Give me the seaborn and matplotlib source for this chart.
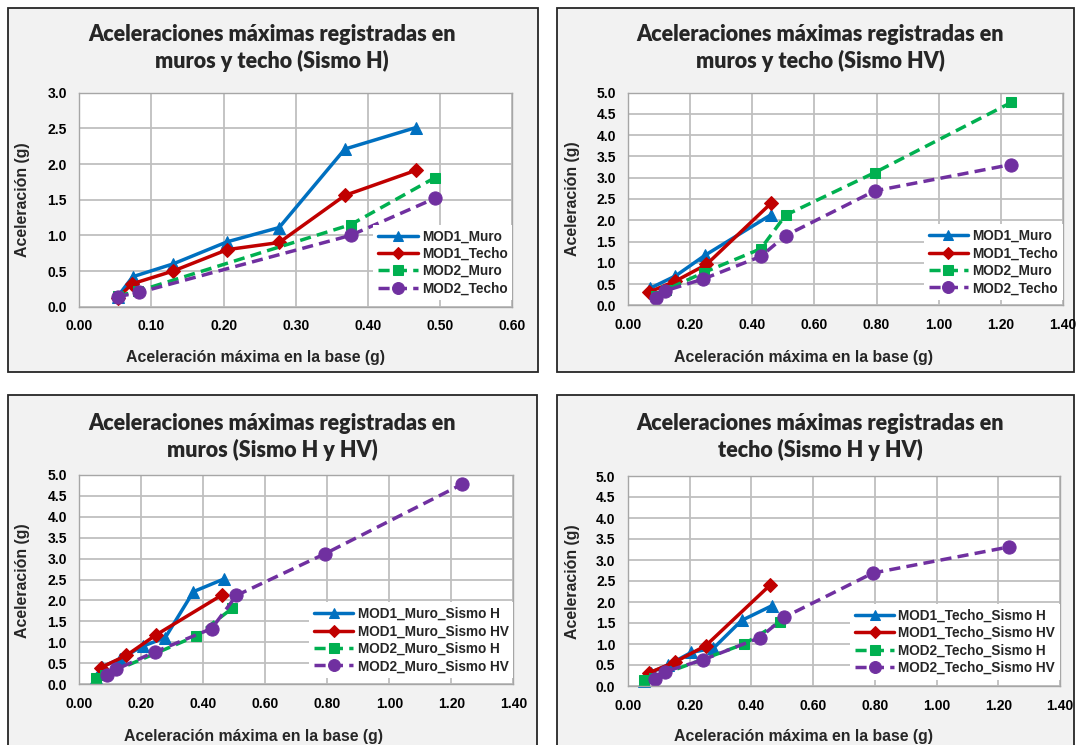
import numpy as np
import pandas as pd
import matplotlib
matplotlib.use("Agg")
import matplotlib.pyplot as plt
import matplotlib.patches as patches
from matplotlib.ticker import FormatStrFormatter
import seaborn as sns

# ==========================================
# DATA
# ==========================================

# Sismo H
mod1_muro_h_x = [0.053, 0.074, 0.130, 0.205, 0.277, 0.368, 0.466]
mod1_muro_h_y = [0.14, 0.42, 0.60, 0.91, 1.11, 2.21, 2.51]
mod1_techo_h_x = [0.053, 0.073, 0.130, 0.205, 0.277, 0.368, 0.466]
mod1_techo_h_y = [0.12, 0.32, 0.50, 0.80, 0.90, 1.56, 1.91]
mod2_muro_h_x = [0.053, 0.082, 0.376, 0.493]
mod2_muro_h_y = [0.15, 0.22, 1.15, 1.81]
mod2_techo_h_x = [0.053, 0.083, 0.376, 0.493]
mod2_techo_h_y = [0.14, 0.20, 1.00, 1.52]

# Sismo HV
mod1_muro_hv_x = [0.070, 0.152, 0.248, 0.460]
mod1_muro_hv_y = [0.40, 0.69, 1.18, 2.13]
mod1_techo_hv_x = [0.067, 0.152, 0.252, 0.460]
mod1_techo_hv_y = [0.31, 0.57, 0.96, 2.40]
mod2_muro_hv_x = [0.088, 0.120, 0.243, 0.427, 0.507, 0.794, 1.234]
mod2_muro_hv_y = [0.22, 0.36, 0.77, 1.33, 2.12, 3.12, 4.77]
mod2_techo_hv_x = [0.089, 0.119, 0.242, 0.427, 0.507, 0.794, 1.234]
mod2_techo_hv_y = [0.17, 0.34, 0.62, 1.15, 1.64, 2.69, 3.31]

titles = [
    "Aceleraciones máximas registradas en\nmuros y techo (Sismo H)",
    "Aceleraciones máximas registradas en\nmuros y techo (Sismo HV)",
    "Aceleraciones máximas registradas en\nmuros (Sismo H y HV)",
    "Aceleraciones máximas registradas en\ntecho (Sismo H y HV)",
]
labels = [
    ["MOD1_Muro", "MOD1_Techo", "MOD2_Muro", "MOD2_Techo"],
    ["MOD1_Muro", "MOD1_Techo", "MOD2_Muro", "MOD2_Techo"],
    ["MOD1_Muro_Sismo H", "MOD1_Muro_Sismo HV", "MOD2_Muro_Sismo H", "MOD2_Muro_Sismo HV"],
    ["MOD1_Techo_Sismo H", "MOD1_Techo_Sismo HV", "MOD2_Techo_Sismo H", "MOD2_Techo_Sismo HV"],
]
series = [
    [(mod1_muro_h_x, mod1_muro_h_y), (mod1_techo_h_x, mod1_techo_h_y),
     (mod2_muro_h_x, mod2_muro_h_y), (mod2_techo_h_x, mod2_techo_h_y)],
    [(mod1_muro_hv_x, mod1_muro_hv_y), (mod1_techo_hv_x, mod1_techo_hv_y),
     (mod2_muro_hv_x, mod2_muro_hv_y), (mod2_techo_hv_x, mod2_techo_hv_y)],
    [(mod1_muro_h_x, mod1_muro_h_y), (mod1_muro_hv_x, mod1_muro_hv_y),
     (mod2_muro_h_x, mod2_muro_h_y), (mod2_muro_hv_x, mod2_muro_hv_y)],
    [(mod1_techo_h_x, mod1_techo_h_y), (mod1_techo_hv_x, mod1_techo_hv_y),
     (mod2_techo_h_x, mod2_techo_h_y), (mod2_techo_hv_x, mod2_techo_hv_y)],
]
x_max = [0.6, 1.4, 1.4, 1.4]
x_step = [0.1, 0.2, 0.2, 0.2]
y_max = [3.0, 5.0, 5.0, 5.0]

# ==========================================
# STYLE
# ==========================================

sns.set_theme(style="white")
plt.rcParams["font.family"] = ["Liberation Sans", "DejaVu Sans"]

colors = ["#0070C0", "#C00000", "#00B050", "#7030A0"]
markers = ["^", "D", "s", "o"]
msizes = [8.5, 7, 7.5, 9.5]
dash = (0, (3.2, 1.8))
lstyles = ["-", "-", dash, dash]

W, H = 1076, 745
fig = plt.figure(figsize=(W / 100, H / 100), dpi=100)
fig.patch.set_facecolor("white")

def fx(px):
    return px / W

def fy(py):
    return 1 - py / H

# panel frame (px), axes box (px), text positions, legend y anchor
frames = [(8, 8, 538, 372), (557, 8, 1074, 372), (8, 395, 537, 760), (557, 395, 1074, 760)]
boxes = [(79.3, 92.7, 512.3, 306.7), (628.3, 92.7, 1062.7, 305.3),
         (79.3, 474.7, 513.3, 684.3), (628.0, 476.0, 1060.0, 686.0)]
title_pos = [(272, 48), (820, 48), (272, 437), (820, 437)]
xlab_pos = [(256, 357), (804, 357), (253, 736), (804, 737)]
ylab_pos = [(23, 200), (572, 199), (23, 581), (572, 582)]
leg_y = [0.03, 0.025, 0.03, 0.03]

for i in range(4):
    x0, y0, x1, y1 = frames[i]
    fig.add_artist(patches.Rectangle((fx(x0), fy(y1)), fx(x1 - x0), (y1 - y0) / H,
                                     transform=fig.transFigure, facecolor="#f2f2f2",
                                     edgecolor="#262626", lw=1.3, zorder=-1))
    bx0, by0, bx1, by1 = boxes[i]
    ax = fig.add_axes([fx(bx0), fy(by1), fx(bx1 - bx0), (by1 - by0) / H])
    ax.set_facecolor("white")

    for j in range(4):
        xs, ys = series[i][j]
        df = pd.DataFrame({"x": xs, "y": ys})
        sns.lineplot(data=df, x="x", y="y", ax=ax, sort=False, estimator=None,
                     color=colors[j], linestyle=lstyles[j], linewidth=2.5,
                     marker=markers[j], markersize=msizes[j],
                     markeredgecolor=colors[j], markerfacecolor=colors[j],
                     label=labels[i][j], clip_on=False)

    ax.set_xlim(0, x_max[i])
    ax.set_ylim(0, y_max[i])
    ax.set_xticks(np.round(np.arange(0, x_max[i] + 1e-9, x_step[i]), 2))
    ax.set_yticks(np.round(np.arange(0, y_max[i] + 1e-9, 0.5), 1))
    ax.xaxis.set_major_formatter(FormatStrFormatter("%.2f"))
    ax.yaxis.set_major_formatter(FormatStrFormatter("%.1f"))
    ax.tick_params(length=0, labelsize=10, pad=9, colors="black")
    for lab in ax.get_xticklabels() + ax.get_yticklabels():
        lab.set_fontweight("bold")
    ax.grid(True, color="#bfbfbf", lw=1.3)
    ax.set_axisbelow(True)
    for sp in ax.spines.values():
        sp.set_color("#a6a6a6")
        sp.set_linewidth(1.0)
    ax.set_xlabel("")
    ax.set_ylabel("")

    leg = ax.legend(loc="lower right", bbox_to_anchor=(1.0, leg_y[i]), borderaxespad=0,
                    frameon=True, facecolor="white", edgecolor="none", framealpha=1,
                    fancybox=False, prop={"weight": "bold", "size": 9.8},
                    handlelength=2.9, handletextpad=0.3, labelspacing=0.25,
                    borderpad=0.35, markerscale=0.9)
    leg.set_zorder(5)

    tx, ty = title_pos[i]
    fig.text(fx(tx), fy(ty), titles[i], ha="center", va="center", fontsize=15.5,
             fontweight="heavy", family=["Lato", "DejaVu Sans"], linespacing=1.3)
    lx, ly = xlab_pos[i]
    fig.text(fx(lx), fy(ly), "Aceleración máxima en la base (g)", ha="center",
             va="center", fontsize=11.4, fontweight="bold")
    yx, yy = ylab_pos[i]
    fig.text(fx(yx), fy(yy), "Aceleración (g)", ha="center", va="center",
             rotation=90, fontsize=11.4, fontweight="bold")

fig.savefig("out.png", dpi=100)
